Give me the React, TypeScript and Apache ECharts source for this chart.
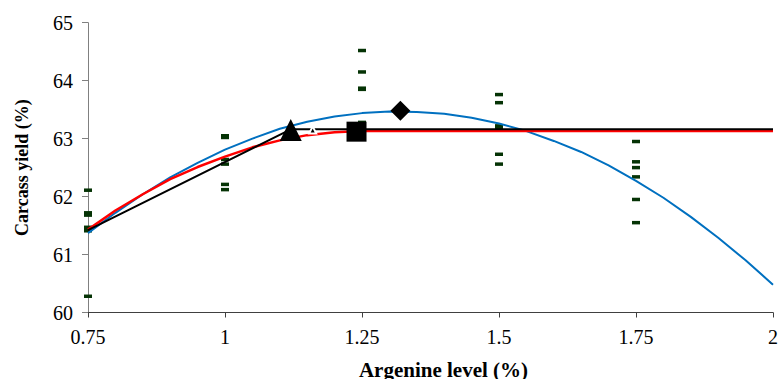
import React, { useEffect, useRef } from "react";
import * as echarts from "echarts";

// Observed carcass yield (%) at each arginine level (%)
const levels = [0.75, 1.0, 1.25, 1.5, 1.75];
const yieldAt075 = [62.11, 61.72, 61.68, 61.47, 61.41, 60.28];
const yieldAt100 = [63.05, 63.02, 62.64, 62.56, 62.21, 62.12];
const yieldAt125 = [64.52, 64.15, 63.87, 63.85, 63.28, 63.2];
const yieldAt150 = [63.76, 63.62, 63.22, 63.19, 62.73, 62.56];
const yieldAt175 = [62.95, 62.6, 62.5, 62.34, 61.95, 61.55];
const observed = [yieldAt075, yieldAt100, yieldAt125, yieldAt150, yieldAt175];

// Quadratic fit (blue)
const quadX = [0.75, 0.8, 0.85, 0.9, 0.95, 1.0, 1.05, 1.1, 1.15, 1.2, 1.25, 1.3, 1.35,
  1.4, 1.45, 1.5, 1.55, 1.6, 1.65, 1.7, 1.75, 1.8, 1.85, 1.9, 1.95, 2.0];
const quadY = [61.37, 61.72, 62.04, 62.33, 62.58, 62.81, 63.0, 63.17, 63.29, 63.38, 63.44, 63.47, 63.46,
  63.43, 63.36, 63.26, 63.13, 62.96, 62.77, 62.54, 62.27, 61.98, 61.65, 61.29, 60.9, 60.48];

// Quadratic-plateau fit (red)
const qpX = [0.75, 0.8, 0.85, 0.9, 0.95, 1.0, 1.05, 1.1, 1.15, 1.2, 1.25, 2.0];
const qpY = [61.43, 61.76, 62.04, 62.3, 62.51, 62.69, 62.85, 62.97, 63.06, 63.11, 63.13, 63.13];

// Broken-line fit (black)
const blX = [0.75, 1.12, 2.0];
const blY = [61.42, 63.16, 63.16];

// Estimated optima markers
const triangleOpt = [1.12, 63.15];
const smallTriangleOpt = [1.16, 63.15];
const squareOpt = [1.24, 63.12];
const diamondOpt = [1.32, 63.48];

// Axes and tick labels
const xTickValues = [0.75, 1, 1.25, 1.5, 1.75, 2];
const xTickLabels = ["0.75", "1", "1.25", "1.5", "1.75", "2"];
const yTickValues = [60, 61, 62, 63, 64, 65];
const yTickLabels = ["60", "61", "62", "63", "64", "65"];
const xTitle = "Argenine level (%)";
const yTitle = "Carcass yield (%)";
const xTicks = { min: 0.75, max: 2, interval: 0.25 };
const yTicks = { min: 60, max: 65, interval: 1 };

const FONT = "Liberation Serif";

export default function App() {
  const ref = useRef<HTMLDivElement>(null);
  useEffect(() => {
    document.body.style.margin = "0";
    if (!ref.current) return;
    const chart = echarts.init(ref.current, undefined, { renderer: "svg" });
    const scatterData: number[][] = [];
    levels.forEach((lv, i) => observed[i].forEach((v) => scatterData.push([lv, v])));
    const zip = (xs: number[], ys: number[]) => xs.map((x, i) => [x, ys[i]]);

    chart.setOption({
      animation: false,
      grid: { left: 88, right: 6, top: 22.7, bottom: 66.5, containLabel: false },
      xAxis: {
        type: "value",
        min: xTicks.min,
        max: xTicks.max,
        interval: xTicks.interval,
        axisLine: { show: true, onZero: false, lineStyle: { color: "#404040", width: 1 } },
        axisTick: { show: true, inside: false, length: 5, lineStyle: { color: "#404040" } },
        axisLabel: { show: false },
        splitLine: { show: false },
      },
      yAxis: {
        type: "value",
        min: yTicks.min,
        max: yTicks.max,
        interval: yTicks.interval,
        axisLine: { show: true, onZero: false, lineStyle: { color: "#808080", width: 1 } },
        axisTick: { show: true, inside: false, length: 6, lineStyle: { color: "#808080" } },
        axisLabel: { show: false },
        splitLine: { show: false },
      },
      series: [
        {
          name: "Observed",
          type: "scatter",
          data: scatterData,
          symbol: "rect",
          symbolSize: [8, 3.5],
          itemStyle: { color: "#053305", opacity: 1 },
          z: 2,
        },
        {
          name: "Quadratic",
          type: "line",
          data: zip(quadX, quadY),
          smooth: false,
          showSymbol: false,
          symbol: "none",
          lineStyle: { color: "#0070C0", width: 2 },
          z: 3,
        },
        {
          name: "Quadratic plateau",
          type: "line",
          data: zip(qpX, qpY),
          smooth: false,
          showSymbol: false,
          symbol: "none",
          lineStyle: { color: "#FF0000", width: 2.5 },
          z: 4,
        },
        {
          name: "Broken line",
          type: "line",
          data: zip(blX, blY),
          showSymbol: false,
          symbol: "none",
          lineStyle: { color: "#000000", width: 2 },
          z: 5,
        },
        {
          name: "Broken-line optimum",
          type: "scatter",
          data: [triangleOpt],
          symbol: "triangle",
          symbolSize: 22,
          itemStyle: { color: "#000", opacity: 1 },
          z: 6,
        },
        {
          name: "Small optimum",
          type: "scatter",
          data: [smallTriangleOpt],
          symbol: "triangle",
          symbolSize: 7,
          itemStyle: { color: "#000", borderColor: "#fff", borderWidth: 2, opacity: 1 },
          z: 6,
        },
        {
          name: "Plateau optimum",
          type: "scatter",
          data: [squareOpt],
          symbol: "rect",
          symbolSize: 20,
          itemStyle: { color: "#000", opacity: 1 },
          z: 6,
        },
        {
          name: "Quadratic optimum",
          type: "scatter",
          data: [diamondOpt],
          symbol: "diamond",
          symbolSize: 20,
          itemStyle: { color: "#000", opacity: 1 },
          z: 6,
        },
      ],
    });

    // Texts drawn as graphic text at positions taken from the chart's own scales
    const px = (v: number) => chart.convertToPixel({ xAxisIndex: 0 }, v) as number;
    const py = (v: number) => chart.convertToPixel({ yAxisIndex: 0 }, v) as number;
    const axisY = py(yTicks.min);
    const axisX = px(xTicks.min);
    const texts: any[] = [];
    xTickValues.forEach((v, i) =>
      texts.push({
        type: "text",
        x: px(v),
        y: axisY + 14,
        silent: true,
        z: 100,
        style: { text: xTickLabels[i], fontFamily: FONT, fontSize: 20, fill: "#000", align: "center", verticalAlign: "top" },
      })
    );
    yTickValues.forEach((v, i) =>
      texts.push({
        type: "text",
        x: axisX - 15,
        y: py(v),
        silent: true,
        z: 100,
        style: { text: yTickLabels[i], fontFamily: FONT, fontSize: 20, fill: "#000", align: "right", verticalAlign: "middle" },
      })
    );
    texts.push({
      type: "text",
      x: (px(xTicks.min) + px(xTicks.max)) / 2 + 13,
      y: axisY + 57,
      silent: true,
      z: 100,
      style: { text: xTitle, fontFamily: FONT, fontSize: 21, fontWeight: "bold", fill: "#000", align: "center", verticalAlign: "middle" },
    });
    texts.push({
      type: "text",
      x: axisX - 66,
      y: (py(yTicks.min) + py(yTicks.max)) / 2,
      rotation: Math.PI / 2,
      silent: true,
      z: 100,
      style: { text: yTitle, fontFamily: FONT, fontSize: 18, fontWeight: "bold", fill: "#000", align: "center", verticalAlign: "middle" },
    });
    chart.setOption({ graphic: texts });

    return () => chart.dispose();
  }, []);
  return <div ref={ref} style={{ width: 779, height: 379, background: "#fff" }} />;
}
